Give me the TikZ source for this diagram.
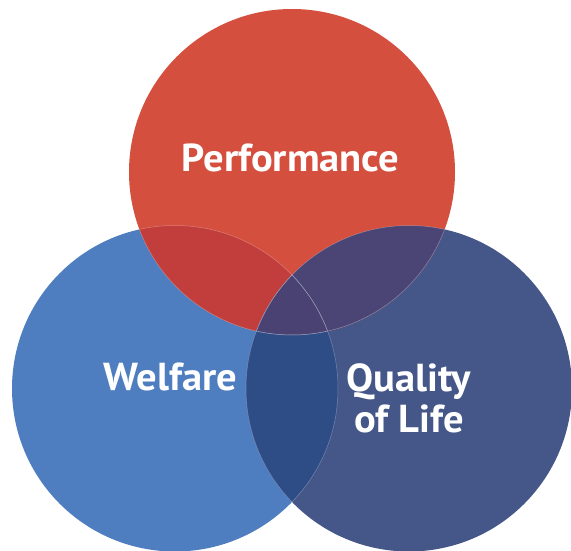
\documentclass[tikz,border=0pt]{standalone}
\usepackage{fontspec}
\setmainfont{PT Sans}[FakeStretch=1.04]
\definecolor{perfred}{HTML}{D54F3F}
\definecolor{welfblue}{HTML}{4E7EBF}
\definecolor{qualblue}{HTML}{455689}
\definecolor{pwmix}{HTML}{C23E3C}
\definecolor{pqmix}{HTML}{4B4576}
\definecolor{wqmix}{HTML}{2E4D86}
\definecolor{allmix}{HTML}{4A4273}

\tikzset{
  label/.style={text=white, font=\bfseries\fontsize{39}{41}\selectfont, align=center},
  seam/.style={draw=white, opacity=0.3, line width=0.5pt}
}

\begin{document}
\begin{tikzpicture}[x=1pt,y=-1pt]
\useasboundingbox (0,0) rectangle (571,551);
\def\rad{163pt}
\coordinate (perf) at (292,172);
\coordinate (welf) at (175,388.5);
\coordinate (qual) at (409,388.5);

% circles
\fill[welfblue] (welf) circle[radius=\rad];
\fill[qualblue] (qual) circle[radius=\rad];
\fill[perfred] (perf) circle[radius=\rad];

% overlaps
\begin{scope}
  \clip (perf) circle[radius=\rad];
  \fill[pwmix] (welf) circle[radius=\rad];
  \fill[pqmix] (qual) circle[radius=\rad];
\end{scope}
\begin{scope}
  \clip (welf) circle[radius=\rad];
  \fill[wqmix] (qual) circle[radius=\rad];
  \clip (qual) circle[radius=\rad];
  \fill[allmix] (perf) circle[radius=\rad];
\end{scope}

% seams
\begin{scope}
  \clip (perf) circle[radius=\rad];
  \draw[seam] (welf) circle[radius=\rad];
  \draw[seam] (qual) circle[radius=\rad];
\end{scope}
\begin{scope}
  \clip (welf) circle[radius=\rad];
  \draw[seam] (perf) circle[radius=\rad];
  \draw[seam] (qual) circle[radius=\rad];
\end{scope}
\begin{scope}
  \clip (qual) circle[radius=\rad];
  \draw[seam] (perf) circle[radius=\rad];
  \draw[seam] (welf) circle[radius=\rad];
\end{scope}

% labels
\node[label] (perflabel) at (290.5,158) {Performance};
\node[label] (welflabel) at (170.5,377) {Welfare};
\node[label] (quallabel) at (409,398) {Quality\\of Life};
\end{tikzpicture}
\end{document}
